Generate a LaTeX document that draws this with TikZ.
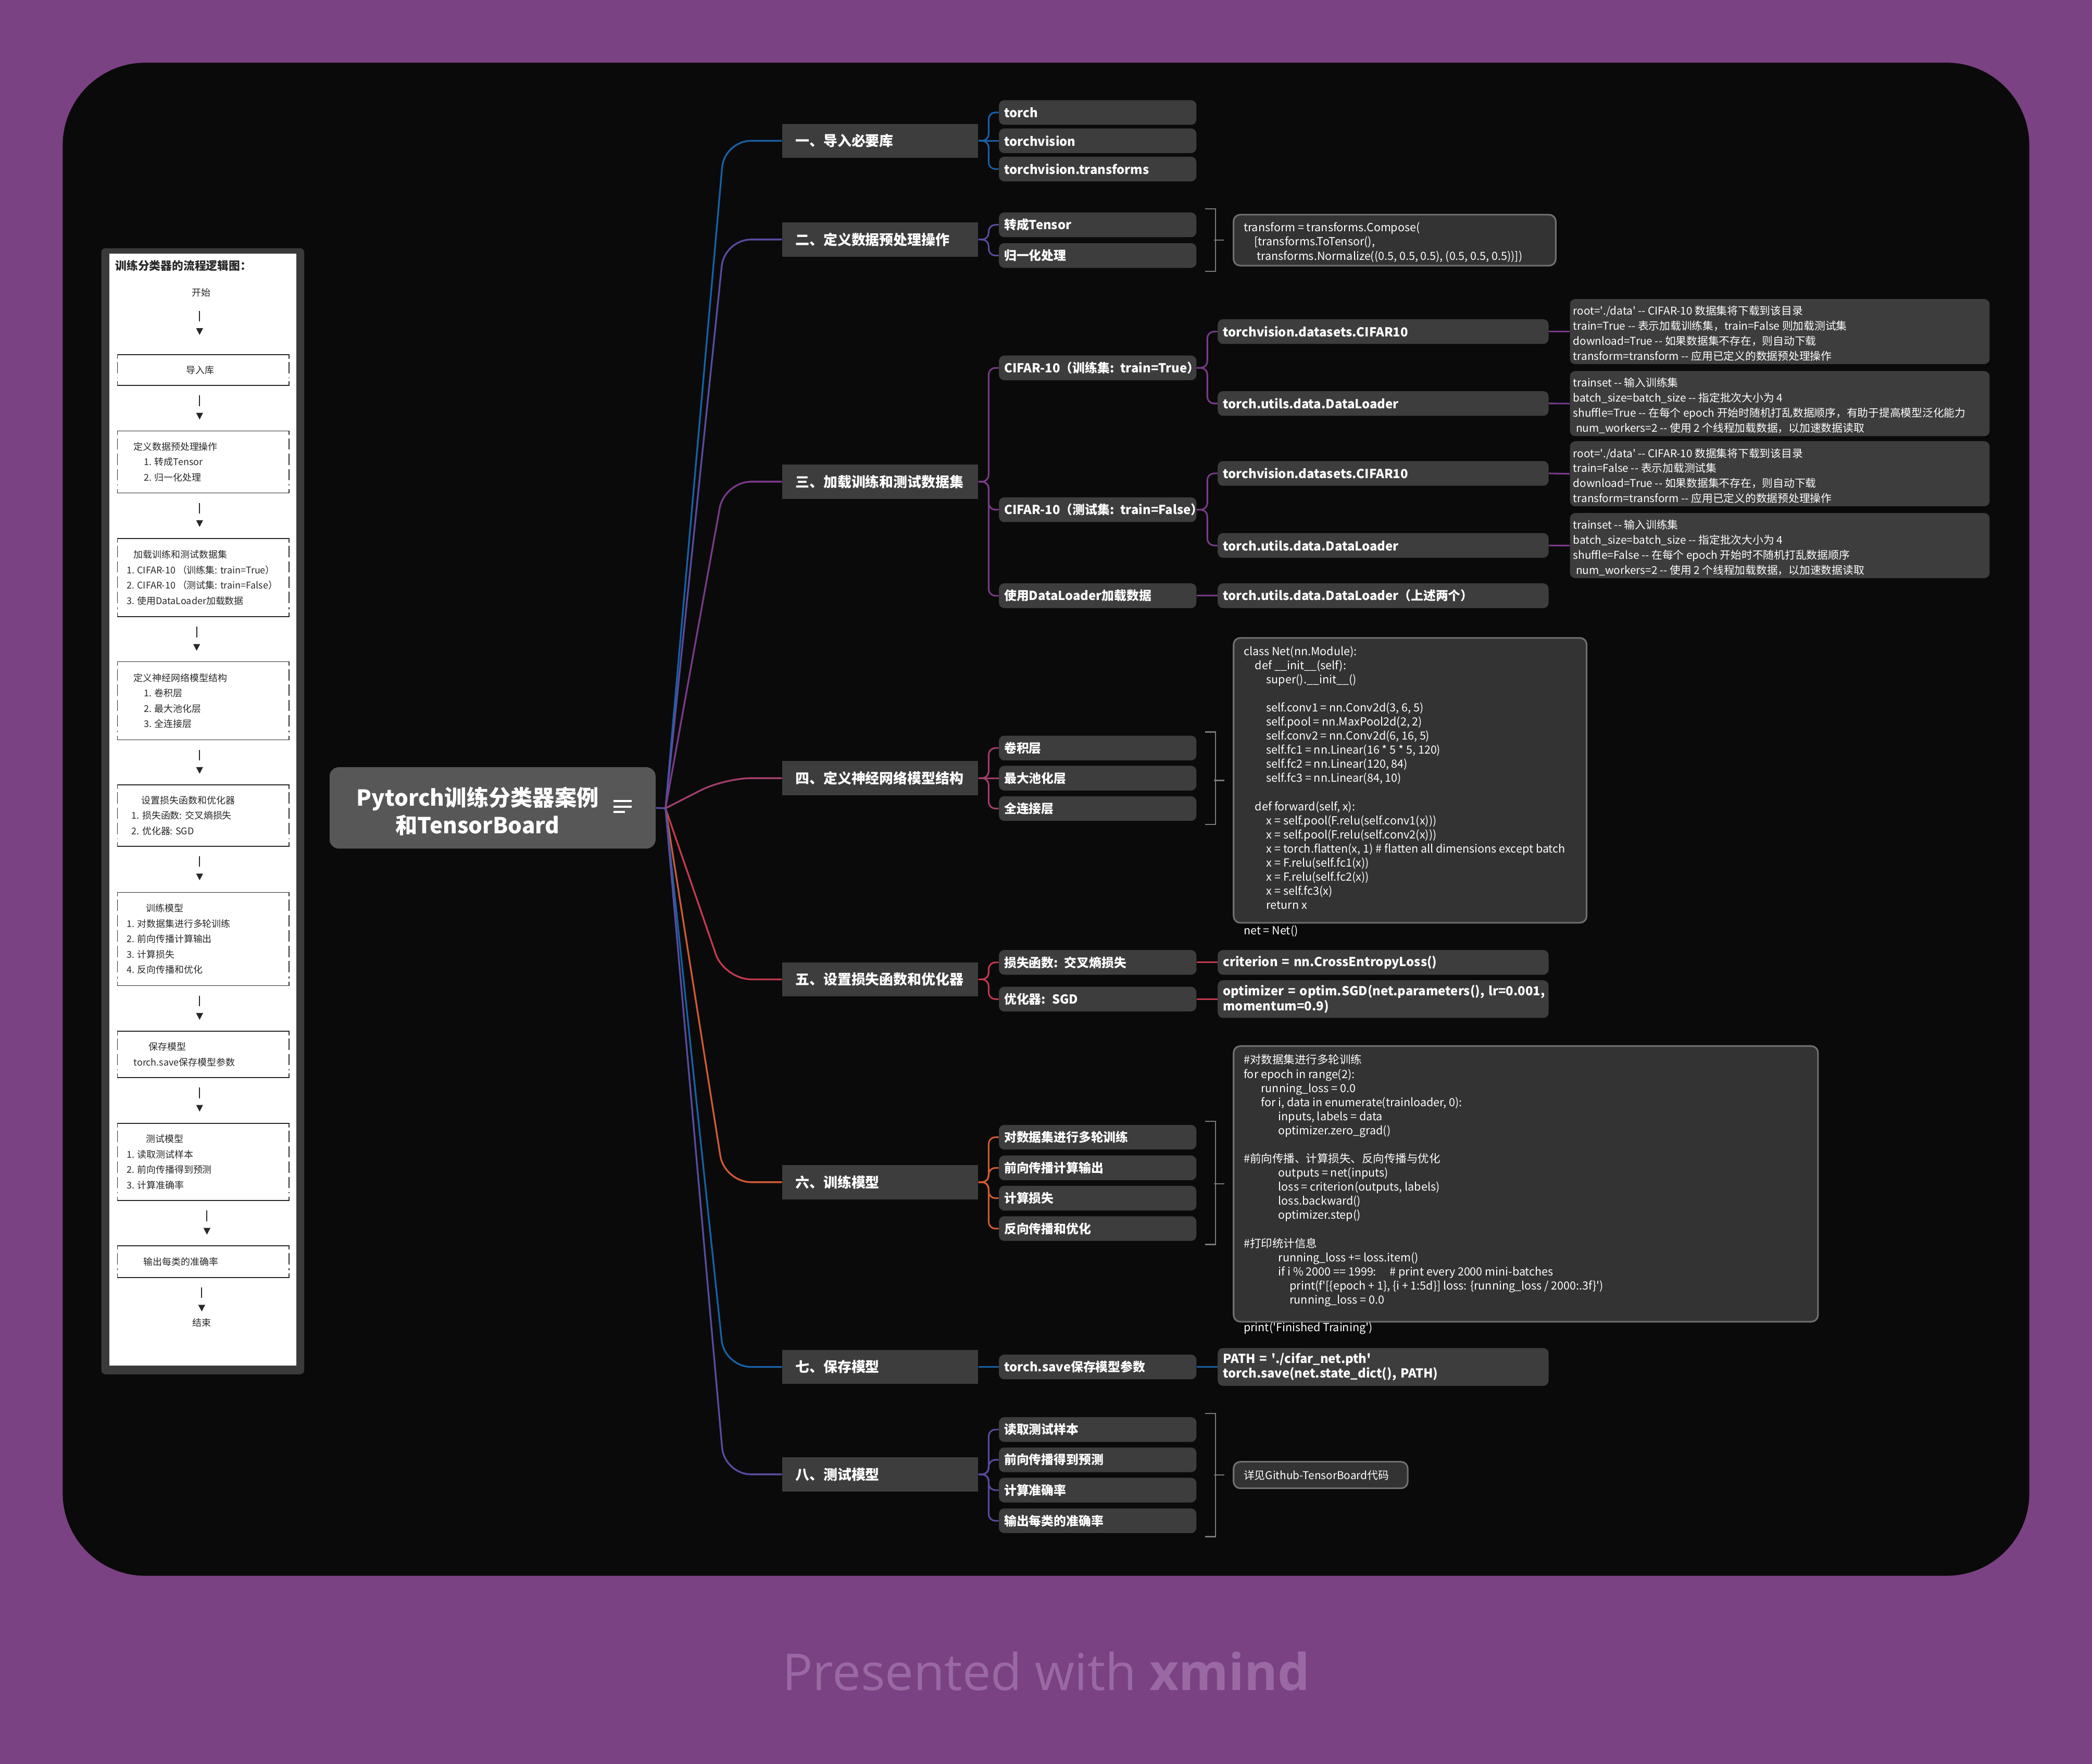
\documentclass[tikz,border=0pt]{standalone}
\usepackage{fontspec}
\setmainfont{Noto Sans CJK SC}
\newfontfamily\footfont{Open Sans}
\usetikzlibrary{calc}
\definecolor{bgpurple}{RGB}{123,66,131}
\definecolor{panel}{RGB}{10,10,10}
\definecolor{nodeg}{RGB}{61,61,61}
\definecolor{rootg}{RGB}{87,87,87}
\definecolor{codeg}{RGB}{51,51,51}
\definecolor{codeborder}{RGB}{112,112,112}
\definecolor{brkc}{RGB}{122,122,122}
\definecolor{cblue}{RGB}{24,96,165}
\definecolor{cviolet}{RGB}{88,76,160}
\definecolor{cpurple}{RGB}{122,58,136}
\definecolor{cmagenta}{RGB}{163,62,108}
\definecolor{cred}{RGB}{194,58,78}
\definecolor{corange}{RGB}{208,90,52}
\definecolor{footc}{RGB}{154,105,164}
\definecolor{flowframe}{RGB}{58,58,58}
\definecolor{flowtext}{RGB}{40,40,40}
\newcommand\q{\textquotesingle}
\newcommand\secf{\fontsize{10.5}{12}\selectfont\bfseries}
\newcommand\subf{\fontsize{9.3}{11}\selectfont\bfseries}
\newcommand\notef{\fontsize{8.1}{11.3}\selectfont}
\newcommand\codef{\fontsize{8.4}{10.57}\selectfont}
\newcommand\flowf{\fontsize{7}{11.5}\selectfont}
\newcommand\flowtf{\fontsize{8.5}{10}\selectfont\bfseries}
\newcommand\rootf{\fontsize{16.5}{21}\selectfont\bfseries}
\exhyphenpenalty=10000
\newcommand\fborder[1]{%
  \draw[fline] ($(#1.north west)+(0,3)$) -- (#1.north west) -- (#1.north east) -- ($(#1.north east)+(0,3)$);
  \draw[fline] ($(#1.south west)+(0,-3)$) -- (#1.south west) -- (#1.south east) -- ($(#1.south east)+(0,-3)$);
  \draw[fline, dash pattern=on 8.5pt off 3pt] ($(#1.north west)+(0,5.5)$) -- ($(#1.south west)+(0,-5.5)$);
  \draw[fline, dash pattern=on 8.5pt off 3pt] ($(#1.north east)+(0,5.5)$) -- ($(#1.south east)+(0,-5.5)$);}
\newcommand\farrow[2]{%
  \draw[fline, line width=0.8] ($(#1.south west)+(#2,7.5)$) -- ++(0,8);
  \fill[flowtext] ($(#1.south west)+(#2-2.6,20.5)$) -- ++(5.2,0) -- ++(-2.6,5) -- cycle;}
\newcommand\summ[3]{%
  \draw[brk] ($(#1.north east)+(6.5,-2.5)$) -- ++(7.6,0) |- ($(#2.south east)+(6.5,2.5)$);
  \draw[brk] (#3.west) ++(-14,0) -- ++(7.5,0);}
\begin{document}
\begin{tikzpicture}[x=1pt,y=-1pt,
  sec/.style={fill=nodeg, text=white, font=\secf, anchor=west, text width=127, inner xsep=10, inner ysep=0, minimum height=25.5, align=left},
  sub/.style={fill=nodeg, rounded corners=4, text=white, font=\subf, anchor=west, text width=140, inner xsep=4, inner ysep=0, minimum height=18.5, align=left},
  gsub/.style={sub, text width=240},
  notebox/.style={fill=nodeg, rounded corners=4, anchor=west, minimum width=314.5, minimum height=48.8, inner sep=0},
  codebox/.style={fill=codeg, draw=codeborder, line width=1.2, rounded corners=5, inner sep=0},
  txt/.style={text=white, anchor=west, inner sep=0, align=left},
  notetext/.style={txt, font=\notef},
  codetext/.style={txt, font=\codef},
  rconn/.style={line width=1.3, rounded corners=20},
  cconn/.style={line width=1.2, rounded corners=5},
  brk/.style={draw=brkc, line width=1},
  fline/.style={draw=flowtext, line width=0.6},
  fbox/.style={anchor=north west, minimum width=128.2, inner sep=0},
  ftext/.style={anchor=west, align=left, inner sep=0, font=\flowf, text=flowtext}]
\useasboundingbox (0,0) rectangle (1568,1322);
\fill[bgpurple] (0,0) rectangle (1568,1322);
\fill[panel, rounded corners=62] (47,47) rectangle (1521,1181);

% ---------- flowchart panel ----------
\fill[flowframe, rounded corners=3] (76,186) rectangle (228,1030);
\fill[white] (82,190) rectangle (222,1023.5);
\node[anchor=west, inner sep=0, font=\flowtf, text=flowtext] (ftitle) at (86.3,199.3) {训练分类器的流程逻辑图：};
\node[inner sep=0, font=\flowf, text=flowtext] (fstart) at (151,219.2) {开始};
\node[inner sep=0, minimum size=0, anchor=south west] (fs) at (88.1,225.5) {};
\node[fbox, minimum height=22.7] (fb1) at (88.1,265.8) {};
\node[fbox, minimum height=46] (fb2) at (88.1,323) {};
\node[fbox, minimum height=58.2] (fb3) at (88.1,403.6) {};
\node[fbox, minimum height=58] (fb4) at (88.1,496) {};
\node[fbox, minimum height=45.5] (fb5) at (88.1,588.3) {};
\node[fbox, minimum height=69.6] (fb6) at (88.1,668.8) {};
\node[fbox, minimum height=34.3] (fb7) at (88.1,772.9) {};
\node[fbox, minimum height=57.4] (fb8) at (88.1,842) {};
\node[fbox, minimum height=23.4] (fb9) at (88.1,933.6) {};
\foreach \b in {fb1,fb2,fb3,fb4,fb5,fb6,fb7,fb8,fb9} {\fborder{\b}}
\node[ftext] (fb1t) at ($(fb1.west)+(6.6,0)$) {\hspace*{44.6pt}导入库};
\node[ftext] (fb2t) at ($(fb2.west)+(6.6,0)$) {\hspace*{5.2pt}定义数据预处理操作\\\hspace*{13.1pt}1. 转成Tensor\\\hspace*{13.1pt}2. 归一化处理};
\node[ftext] (fb3t) at ($(fb3.west)+(6.6,0)$) {\hspace*{5.3pt}加载训练和测试数据集\\1. CIFAR-10 （训练集: train=True）\\2. CIFAR-10 （测试集: train=False）\\3. 使用DataLoader加载数据};
\node[ftext] (fb4t) at ($(fb4.west)+(6.6,0)$) {\hspace*{5.3pt}定义神经网络模型结构\\\hspace*{13.1pt}1. 卷积层\\\hspace*{13.1pt}2. 最大池化层\\\hspace*{13.1pt}3. 全连接层};
\node[ftext] (fb5t) at ($(fb5.west)+(6.6,0)$) {\hspace*{11.2pt}设置损失函数和优化器\\\hspace*{3.8pt}1. 损失函数: 交叉熵损失\\\hspace*{3.8pt}2. 优化器: SGD};
\node[ftext] (fb6t) at ($(fb6.west)+(6.6,0)$) {\hspace*{14.7pt}训练模型\\1. 对数据集进行多轮训练\\2. 前向传播计算输出\\3. 计算损失\\4. 反向传播和优化};
\node[ftext] (fb7t) at ($(fb7.west)+(6.6,0)$) {\hspace*{16.5pt}保存模型\\\hspace*{5.3pt}torch.save保存模型参数};
\node[ftext] (fb8t) at ($(fb8.west)+(6.6,0)$) {\hspace*{14.7pt}测试模型\\1. 读取测试样本\\2. 前向传播得到预测\\3. 计算准确率};
\node[ftext] (fb9t) at ($(fb9.west)+(6.6,0)$) {\hspace*{12.7pt}输出每类的准确率};
\node[inner sep=0, font=\flowf, text=flowtext] (fend) at (151.2,991.2) {结束};
\farrow{fs}{61.5}
\farrow{fb1}{61.5}
\farrow{fb2}{61.5}
\farrow{fb3}{59.3}
\farrow{fb4}{61.5}
\farrow{fb5}{61.5}
\farrow{fb6}{61.5}
\farrow{fb7}{61.5}
\farrow{fb8}{67}
\farrow{fb9}{63.1}

% ---------- root ----------
\node[fill=rootg, rounded corners=7, minimum width=244.4, minimum height=61, inner sep=0] (root) at (369.2,605.5) {};
\node[font=\rootf, text=white, align=center, inner sep=0] (roottitle) at (358,608) {Pytorch训练分类器案例\\和TensorBoard};
\draw[white, line width=1.5] (460,600.5) -- (473.5,600.5) (460,604.5) -- (473.5,604.5) (460,608.5) -- (468.5,608.5);

% ---------- sections ----------
\node[sec] (s1) at (586,105.5) {一、导入必要库};
\node[sec] (s2) at (586,179.5) {二、定义数据预处理操作};
\node[sec] (s3) at (586,361) {三、加载训练和测试数据集};
\node[sec] (s4) at (586,583.2) {四、定义神经网络模型结构};
\node[sec] (s5) at (586,734) {五、设置损失函数和优化器};
\node[sec] (s6) at (586,886) {六、训练模型};
\node[sec] (s7) at (586,1024.5) {七、保存模型};
\node[sec] (s8) at (586,1105) {八、测试模型};

\coordinate (R) at (498.8,605.8);
\coordinate (K) at (543,0);
\draw[rconn, cviolet] (root.east) -- (R);
\draw[rconn, cblue] (R) -- (K |- s1.west) -- (s1.west);
\draw[rconn, cviolet] (R) -- (K |- s2.west) -- (s2.west);
\draw[rconn, cpurple] (R) -- (K |- s3.west) -- (s3.west);
\draw[rconn, cmagenta] (R) -- (K |- s4.west) -- (s4.west);
\draw[rconn, cred] (R) -- (K |- s5.west) -- (s5.west);
\draw[rconn, corange] (R) -- (K |- s6.west) -- (s6.west);
\draw[rconn, cblue] (R) -- (K |- s7.west) -- (s7.west);
\draw[rconn, cviolet] (R) -- (K |- s8.west) -- (s8.west);

% ---------- section 1 ----------
\node[sub] (t11) at (748.5,84.3) {torch};
\node[sub] (t12) at (748.5,105.5) {torchvision};
\node[sub] (t13) at (748.5,126.7) {torchvision.transforms};
\draw[cconn, cblue] (s1.east) -- ++(7.6,0) |- (t11.west);
\draw[cconn, cblue] (s1.east) -- (t12.west);
\draw[cconn, cblue] (s1.east) -- ++(7.6,0) |- (t13.west);

% ---------- section 2 ----------
\node[sub] (t21) at (748.5,168.5) {转成Tensor};
\node[sub] (t22) at (748.5,191.5) {归一化处理};
\draw[cconn, cviolet] (s2.east) -- ++(7.6,0) |- (t21.west);
\draw[cconn, cviolet] (s2.east) -- ++(7.6,0) |- (t22.west);
\node[codebox, minimum width=241.5, minimum height=38.2] (c2) at (1045.3,180) {};
\node[codetext, font=\fontsize{8.4}{10.7}\selectfont] (c2t) at ($(c2.west)+(8,1.5)$) {transform = transforms.Compose(\\\hspace*{8pt}[transforms.ToTensor(),\\\hspace*{10pt}transforms.Normalize((0.5, 0.5, 0.5), (0.5, 0.5, 0.5))])};
\summ{t21}{t22}{c2}

% ---------- section 3 ----------
\node[sub] (t31) at (748.5,275.7) {\mbox{CIFAR-10（训练集: train=True）}};
\node[sub] (t32) at (748.5,382) {\mbox{CIFAR-10（测试集: train=False）}};
\node[sub] (t33) at (748.5,446.5) {使用DataLoader加载数据};
\draw[cconn, cpurple] (s3.east) -- ++(7.6,0) |- (t31.west);
\draw[cconn, cpurple] (s3.east) -- ++(7.6,0) |- (t32.west);
\draw[cconn, cpurple] (s3.east) -- ++(7.6,0) |- (t33.west);
\node[gsub] (g311) at (912.5,248.5) {torchvision.datasets.CIFAR10};
\node[gsub] (g312) at (912.5,302.4) {torch.utils.data.DataLoader};
\node[gsub] (g321) at (912.5,354.8) {torchvision.datasets.CIFAR10};
\node[gsub] (g322) at (912.5,408.8) {torch.utils.data.DataLoader};
\node[gsub] (g331) at (912.5,446.5) {\mbox{torch.utils.data.DataLoader（上述两个）}};
\draw[cconn, cpurple] (t31.east) -- ++(8,0) |- (g311.west);
\draw[cconn, cpurple] (t31.east) -- ++(8,0) |- (g312.west);
\draw[cconn, cpurple] (t32.east) -- ++(8,0) |- (g321.west);
\draw[cconn, cpurple] (t32.east) -- ++(8,0) |- (g322.west);
\draw[cconn, cpurple] (t33.east) -- (g331.west);
\node[notebox] (n1) at (1176.5,248.5) {};
\node[notebox] (n2) at (1176.5,302.5) {};
\node[notebox] (n3) at (1176.5,355.1) {};
\node[notebox] (n4) at (1176.5,408.9) {};
\node[notetext] (n1t) at ($(n1.west)+(2.5,1.5)$) {root=\q./data\q\ -{}- CIFAR-10 数据集将下载到该目录\\train=True -{}- 表示加载训练集，train=False 则加载测试集\\download=True -{}- 如果数据集不存在，则自动下载\\transform=transform -{}- 应用已定义的数据预处理操作};
\node[notetext] (n2t) at ($(n2.west)+(2.5,1.5)$) {trainset -{}- 输入训练集\\batch\_size=batch\_size -{}- 指定批次大小为 4\\shuffle=True -{}- 在每个 epoch 开始时随机打乱数据顺序，有助于提高模型泛化能力\\\hspace*{2pt}num\_workers=2 -{}- 使用 2 个线程加载数据，以加速数据读取};
\node[notetext] (n3t) at ($(n3.west)+(2.5,1.5)$) {root=\q./data\q\ -{}- CIFAR-10 数据集将下载到该目录\\train=False -{}- 表示加载测试集\\download=True -{}- 如果数据集不存在，则自动下载\\transform=transform -{}- 应用已定义的数据预处理操作};
\node[notetext] (n4t) at ($(n4.west)+(2.5,1.5)$) {trainset -{}- 输入训练集\\batch\_size=batch\_size -{}- 指定批次大小为 4\\shuffle=False -{}- 在每个 epoch 开始时不随机打乱数据顺序\\\hspace*{2pt}num\_workers=2 -{}- 使用 2 个线程加载数据，以加速数据读取};
\draw[cconn, cpurple] (g311.east) -- (n1.west);
\draw[cconn, cpurple] (g312.east) -- (n2.west);
\draw[cconn, cpurple] (g321.east) -- (n3.west);
\draw[cconn, cpurple] (g322.east) -- (n4.west);

% ---------- section 4 ----------
\node[sub] (t41) at (748.5,560.6) {卷积层};
\node[sub] (t42) at (748.5,583.2) {最大池化层};
\node[sub] (t43) at (748.5,606) {全连接层};
\draw[cconn, cmagenta] (s4.east) -- ++(7.6,0) |- (t41.west);
\draw[cconn, cmagenta] (s4.east) -- (t42.west);
\draw[cconn, cmagenta] (s4.east) -- ++(7.6,0) |- (t43.west);
\node[codebox, anchor=north west, minimum width=264.6, minimum height=213.5] (c4) at (924,477.5) {};
\node[codetext] (c4t) at ($(c4.west)+(8,-2)$) {class Net(nn.Module):\\
\hspace*{8.5pt}def \_\_init\_\_(self):\\
\hspace*{17pt}super().\_\_init\_\_()\\
~\\
\hspace*{17pt}self.conv1 = nn.Conv2d(3, 6, 5)\\
\hspace*{17pt}self.pool = nn.MaxPool2d(2, 2)\\
\hspace*{17pt}self.conv2 = nn.Conv2d(6, 16, 5)\\
\hspace*{17pt}self.fc1 = nn.Linear(16 * 5 * 5, 120)\\
\hspace*{17pt}self.fc2 = nn.Linear(120, 84)\\
\hspace*{17pt}self.fc3 = nn.Linear(84, 10)\\
~\\
\hspace*{8.5pt}def forward(self, x):\\
\hspace*{17pt}x = self.pool(F.relu(self.conv1(x)))\\
\hspace*{17pt}x = self.pool(F.relu(self.conv2(x)))\\
\hspace*{17pt}x = torch.flatten(x, 1) \# flatten all dimensions except batch\\
\hspace*{17pt}x = F.relu(self.fc1(x))\\
\hspace*{17pt}x = F.relu(self.fc2(x))\\
\hspace*{17pt}x = self.fc3(x)\\
\hspace*{17pt}return x};
\node[codetext] (netline) at (932,698) {net = Net()};
\summ{t41}{t43}{c4}

% ---------- section 5 ----------
\node[sub] (t51) at (748.5,721.3) {损失函数: 交叉熵损失};
\node[sub] (t52) at (748.5,748.8) {优化器: SGD};
\draw[cconn, cred] (s5.east) -- ++(7.6,0) |- (t51.west);
\draw[cconn, cred] (s5.east) -- ++(7.6,0) |- (t52.west);
\node[gsub] (g511) at (912.5,721.3) {criterion = nn.CrossEntropyLoss()};
\node[gsub, minimum height=28.2] (g521) at (912.5,748.8) {\mbox{optimizer = optim.SGD(net.parameters(), lr=0.001,}\\momentum=0.9)};
\draw[cconn, cred] (t51.east) -- (g511.west);
\draw[cconn, cred] (t52.east) -- (g521.west);

% ---------- section 6 ----------
\node[sub] (t61) at (748.5,852.3) {对数据集进行多轮训练};
\node[sub] (t62) at (748.5,875.3) {前向传播计算输出};
\node[sub] (t63) at (748.5,898) {计算损失};
\node[sub] (t64) at (748.5,920.8) {反向传播和优化};
\draw[cconn, corange] (s6.east) -- ++(7.6,0) |- (t61.west);
\draw[cconn, corange] (s6.east) -- ++(7.6,0) |- (t62.west);
\draw[cconn, corange] (s6.east) -- ++(7.6,0) |- (t63.west);
\draw[cconn, corange] (s6.east) -- ++(7.6,0) |- (t64.west);
\node[codebox, anchor=north west, minimum width=438, minimum height=206.6] (c6) at (924,783.4) {};
\node[codetext] (c6t) at ($(c6.west)+(8,-2.5)$) {\#对数据集进行多轮训练\\
for epoch in range(2):\\
\hspace*{13pt}running\_loss = 0.0\\
\hspace*{13pt}for i, data in enumerate(trainloader, 0):\\
\hspace*{26pt}inputs, labels = data\\
\hspace*{26pt}optimizer.zero\_grad()\\
~\\
\#前向传播、计算损失、反向传播与优化\\
\hspace*{26pt}outputs = net(inputs)\\
\hspace*{26pt}loss = criterion(outputs, labels)\\
\hspace*{26pt}loss.backward()\\
\hspace*{26pt}optimizer.step()\\
~\\
\#打印统计信息\\
\hspace*{26pt}running\_loss += loss.item()\\
\hspace*{26pt}if i \% 2000 == 1999:\hspace{10pt}\# print every 2000 mini-batches\\
\hspace*{34.5pt}print(f\q[\{epoch + 1\}, \{i + 1:5d\}] loss: \{running\_loss / 2000:.3f\}\q)\\
\hspace*{34.5pt}running\_loss = 0.0};
\node[codetext] (finline) at (932,995.6) {print(\q Finished Training\q)};
\summ{t61}{t64}{c6}

% ---------- section 7 ----------
\node[sub] (t71) at (748.5,1024.5) {torch.save保存模型参数};
\draw[cconn, cblue] (s7.east) -- (t71.west);
\node[gsub, minimum height=28.3] (g711) at (912.5,1024.5) {PATH = \q./cifar\_net.pth\q\\torch.save(net.state\_dict(), PATH)};
\draw[cconn, cblue] (t71.east) -- (g711.west);

% ---------- section 8 ----------
\node[sub] (t81) at (748.5,1071.4) {读取测试样本};
\node[sub] (t82) at (748.5,1094.1) {前向传播得到预测};
\node[sub] (t83) at (748.5,1116.8) {计算准确率};
\node[sub] (t84) at (748.5,1139.8) {输出每类的准确率};
\draw[cconn, cviolet] (s8.east) -- ++(7.6,0) |- (t81.west);
\draw[cconn, cviolet] (s8.east) -- ++(7.6,0) |- (t82.west);
\draw[cconn, cviolet] (s8.east) -- ++(7.6,0) |- (t83.west);
\draw[cconn, cviolet] (s8.east) -- ++(7.6,0) |- (t84.west);
\node[codebox, anchor=west, minimum width=130.5, minimum height=19.9] (c8) at (924,1105.5) {};
\node[notetext] (c8t) at ($(c8.west)+(8,0)$) {详见Github-TensorBoard代码};
\summ{t81}{t84}{c8}

% ---------- footer ----------
\node[font=\footfont\fontsize{38}{40}\selectfont, text=footc, anchor=base, inner sep=0] (footer) at (784,1267) {Presented with \textbf{xmind}};
\end{tikzpicture}
\end{document}
